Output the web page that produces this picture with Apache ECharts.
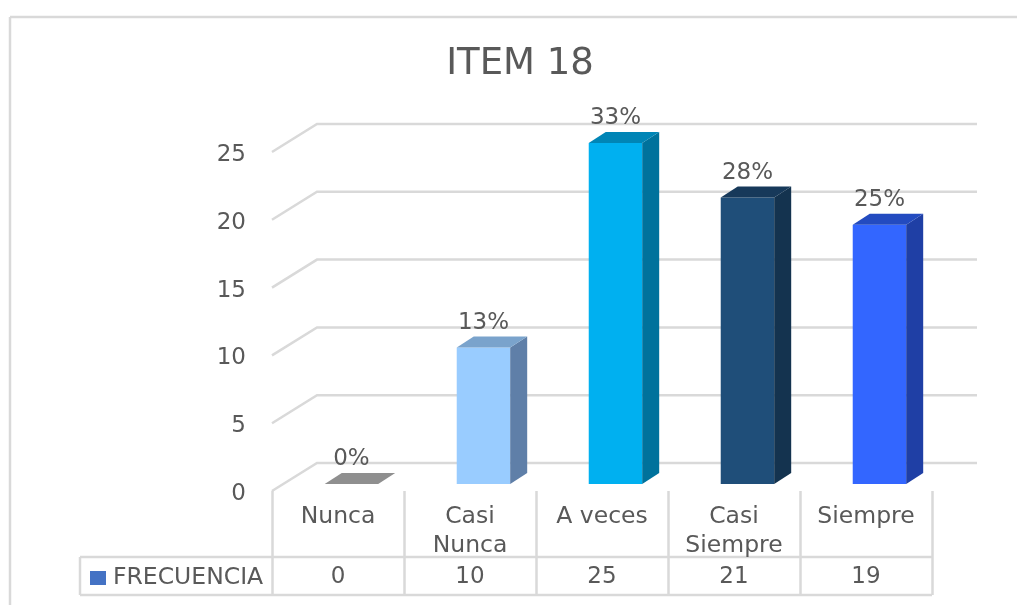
<!DOCTYPE html>
<html><head><meta charset="utf-8">
<style>html,body{margin:0;padding:0;background:#fff}#c{width:1017px;height:605px}</style>
<script src="https://cdn.jsdelivr.net/npm/echarts@6/dist/echarts.min.js"></script>
</head><body><div id="c"></div>
<script>
const categories = ['Nunca', 'Casi\nNunca', 'A veces', 'Casi\nSiempre', 'Siempre'];
const frequency = [0, 10, 25, 21, 19];
const percentLabels = ['0%', '13%', '33%', '28%', '25%'];
const yTicks = [0, 5, 10, 15, 20, 25];
const seriesName = 'FRECUENCIA';
const frontColors = ['#8F8F8F', '#99CCFF', '#00B0F0', '#1F4E79', '#3366FF'];
const sideColors = ['#8F8F8F', '#5F7FA8', '#00729C', '#14334F', '#1F3FA5'];
const topColors = ['#8F8F8F', '#7AA3CC', '#0085B6', '#17395A', '#234BC0'];

const GRID = '#D9D9D9', TEXT = '#595959', FONT = '"DejaVu Sans", sans-serif';
const chart = echarts.init(document.getElementById('c'), null, {renderer: 'canvas'});

function hline(x1, y1, x2, y2) {
  return {type: 'line', shape: {x1, y1, x2, y2}, style: {stroke: GRID, lineWidth: 2.5}, silent: true};
}

chart.setOption({
  animation: false,
  backgroundColor: '#fff',
  title: {text: 'ITEM 18', left: 515, top: 41, textAlign: 'center',
    textStyle: {fontFamily: FONT, fontSize: 37, fontWeight: 'normal', color: TEXT}},
  legend: {left: 85, top: 561, itemWidth: 16, itemHeight: 14, itemGap: 7, icon: 'rect',
    data: [seriesName], selectedMode: false,
    textStyle: {fontFamily: FONT, fontSize: 23.5, color: TEXT, padding: [0, 0, 0, 2]}},
  grid: {left: 272, right: 85, top: 152, bottom: 114},
  xAxis: [
    {type: 'category', data: categories, position: 'bottom',
      axisLine: {show: false},
      axisTick: {show: true, length: 104, lineStyle: {color: GRID, width: 2.5}},
      axisLabel: {fontFamily: FONT, fontSize: 23.5, color: TEXT, lineHeight: 29, margin: 11,
        verticalAlign: 'top', interval: 0}},
    {type: 'category', data: frequency.map(String), position: 'bottom', offset: 75,
      axisLine: {show: false}, axisTick: {show: false},
      axisLabel: {fontFamily: FONT, fontSize: 23, color: TEXT, margin: 0, interval: 0}}
  ],
  yAxis: {type: 'value', min: 0, max: 25, interval: 5,
    axisLine: {show: false}, axisTick: {show: false}, splitLine: {show: false},
    axisLabel: {margin: 26, formatter: '{a|{value}}',
      rich: {a: {fontFamily: FONT, fontSize: 23, color: TEXT, padding: [6, 0, 0, 0]}}}},
  series: [
    {type: 'custom', silent: true, xAxisIndex: 0, yAxisIndex: 0, z: 1,
      data: yTicks.map(v => [v]), encode: {y: 0},
      renderItem(params, api) {
        const v = api.value(0);
        const w = api.size([1, 0])[0];
        const p0 = api.coord([0, v]);
        const p4 = api.coord([4, v]);
        const xl = p0[0] - w / 2, y = p0[1];
        const xb = xl + 45, yb = y - 28;
        const xr = p4[0] + w / 2 + 45;
        return {type: 'polyline', shape: {points: [[xl, y], [xb, yb], [xr, yb]]},
          style: {stroke: GRID, lineWidth: 2.5, fill: null}};
      }},
    {type: 'custom', name: seriesName, silent: true, xAxisIndex: 0, yAxisIndex: 0, z: 3,
      itemStyle: {color: '#4472C4'},
      data: frequency.map((v, i) => [i, v]), encode: {x: 0, y: 1},
      label: {show: false},
      renderItem(params, api) {
        const i = api.value(0), v = api.value(1);
        const top = api.coord([i, v]), base = api.coord([i, 0]);
        const w = api.size([1, 0])[0] * 0.405;
        const cx = top[0] + api.size([1, 0])[0] * 0.102;
        const lift = 7, dx = 17, dy = 11;
        const xl = cx - w / 2, xr = cx + w / 2;
        const yb = base[1] - lift;
        const yt = yb - (base[1] - top[1]) * 1.006;
        const children = [];
        if (v > 0) {
          children.push({type: 'rect', shape: {x: xl, y: yt, width: w, height: yb - yt},
            style: {fill: frontColors[i]}});
          children.push({type: 'polygon', shape: {points: [[xr, yt], [xr + dx, yt - dy], [xr + dx, yb - dy], [xr, yb]]},
            style: {fill: sideColors[i]}});
        }
        children.push({type: 'polygon', shape: {points: [[xl, yt], [xl + dx, yt - dy], [xr + dx, yt - dy], [xr, yt]]},
          style: {fill: topColors[i]}});
        children.push({type: 'text', style: {text: percentLabels[i], x: cx, y: yt - 25, align: 'center',
          verticalAlign: 'middle', fontFamily: FONT, fontSize: 23, fill: TEXT}});
        return {type: 'group', children};
      }}
  ],
  graphic: [
    hline(10, 17, 1017, 17),
    hline(10, 17, 10, 605),
    hline(80, 557, 932, 557),
    hline(80, 595, 932, 595),
    hline(80, 557, 80, 595)
  ]
});
</script></body></html>
